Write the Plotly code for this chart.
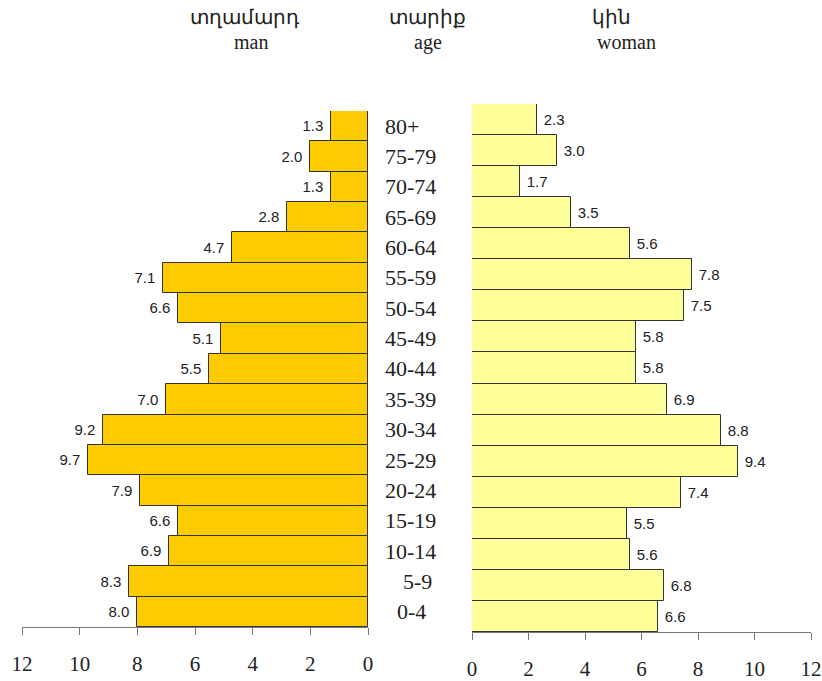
import plotly.graph_objects as go

ages = ["0-4", "5-9", "10-14", "15-19", "20-24", "25-29", "30-34", "35-39", "40-44",
        "45-49", "50-54", "55-59", "60-64", "65-69", "70-74", "75-79", "80+"]
men = [8.0, 8.3, 6.9, 6.6, 7.9, 9.7, 9.2, 7.0, 5.5, 5.1, 6.6, 7.1, 4.7, 2.8, 1.3, 2.0, 1.3]
women = [6.6, 6.8, 5.6, 5.5, 7.4, 9.4, 8.8, 6.9, 5.8, 5.8, 7.5, 7.8, 5.6, 3.5, 1.7, 3.0, 2.3]
ticks = [0, 2, 4, 6, 8, 10, 12]

W, H = 822, 681
serif = "Liberation Serif, Times New Roman, serif"
sans = "Liberation Sans, Arial, sans-serif"

fig = go.Figure()
fig.add_trace(go.Bar(
    y=ages, x=men, orientation="h", xaxis="x", yaxis="y",
    marker=dict(color="#FFCC00", line=dict(color="#333333", width=1)),
    texttemplate="%{x:.1f}\u00a0", textposition="outside", cliponaxis=False,
    textfont=dict(family=sans, size=15, color="#222222"),
))
fig.add_trace(go.Bar(
    y=ages, x=women, orientation="h", xaxis="x2", yaxis="y2",
    marker=dict(color="#FFFF99", line=dict(color="#333333", width=1)),
    texttemplate="\u00a0%{x:.1f}", textposition="outside", cliponaxis=False,
    textfont=dict(family=sans, size=15, color="#222222"),
))

axis_common = dict(
    tickvals=ticks, ticktext=[str(t) for t in ticks], showgrid=False, zeroline=False,
    showline=True, linecolor="#777777", linewidth=1, ticks="outside", ticklen=7,
    tickcolor="#777777", tickfont=dict(family=serif, size=21, color="#222222"),
    ticklabelstandoff=11, fixedrange=True, automargin=False,
)

fig.update_layout(
    width=W, height=H, margin=dict(l=0, r=0, t=0, b=0, autoexpand=False),
    paper_bgcolor="white", plot_bgcolor="white",
    showlegend=False, bargap=0, uniformtext=dict(mode=False),
    xaxis=dict(domain=[22 / W, 368 / W], range=[12, 0], anchor="y", **axis_common),
    yaxis=dict(domain=[1 - 627 / H, 1 - 111 / H], range=[-0.5, 16.5], visible=False,
               anchor="x", automargin=False),
    xaxis2=dict(domain=[472 / W, 811 / W], range=[0, 12], anchor="y2", **axis_common),
    yaxis2=dict(domain=[1 - 632 / H, 1 - 104 / H], range=[-0.5, 16.5], visible=False,
                anchor="x2", automargin=False),
)

# age labels sit between the two panels, mostly left-aligned
age_shift = {"5-9": 18, "0-4": 12}
for a in ages:
    fig.add_annotation(x=383 / W, xref="paper", y=a, yref="y", text=a, showarrow=False,
                       xanchor="left", xshift=age_shift.get(a, 0),
                       font=dict(family=serif, size=22, color="#222222"))

titles = [
    ("տղամարդ", 245, 18), ("man", 251, 42),
    ("տարիք", 427, 18), ("age", 428, 42),
    ("կին", 611, 18), ("woman", 626, 42),
]
for t, x, y in titles:
    fig.add_annotation(x=x / W, xref="paper", y=1 - y / H, yref="paper", text=t,
                       showarrow=False, xanchor="center", yanchor="middle",
                       font=dict(family=serif, size=20, color="#222222"))

fig.write_html("out.html", config={"displayModeBar": False},
               post_script="document.body.style.margin='0';")
